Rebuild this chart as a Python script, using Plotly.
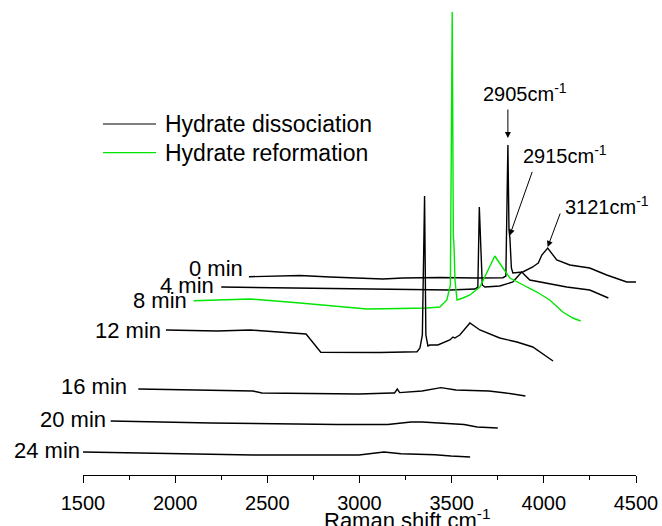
import plotly.graph_objects as go

# ---------------- data (raw Raman shift in cm-1, stacked intensity in a.u.) ----------------
times = ["0 min", "4 min", "8 min", "12 min", "16 min", "20 min", "24 min"]
x_offsets = [900, 750, 600, 450, 300, 150, 0]   # waterfall shift along x (cm-1)
colors = ["black", "black", "#00e600", "black", "black", "black", "black"]

x_0 = [1500, 1686, 1778, 1940, 2227, 2336, 2536, 2737, 2878, 2894, 2905, 2911, 2916, 2924, 2932,
       2986, 3040, 3062, 3070, 3089, 3121, 3170, 3241, 3349, 3441, 3550, 3600]
y_0 = [198.3, 199, 199.5, 198, 196, 197, 197.5, 197, 197.3, 199, 330, 245, 237, 207, 202,
       203, 208, 211, 212, 220, 227, 215, 210, 207, 200, 193, 193]

x_4 = [1500, 1711, 1928, 2128, 2415, 2740, 2876, 2892, 2900, 2911, 2916, 2930, 3011, 3082,
       3130, 3174, 3266, 3374, 3499, 3591, 3600]
y_4 = [188, 187.5, 187, 187, 186, 185, 186, 188, 268, 207, 190, 188, 189, 193,
       203, 195, 192, 188, 185, 178, 177]

x_8 = [1500, 1807, 2078, 2256, 2440, 2620, 2766, 2836, 2874, 2893, 2903, 2909, 2913, 2918,
       2929, 2961, 2999, 3053, 3091, 3134, 3178, 3216, 3308, 3362, 3432, 3503, 3557, 3600]
y_8 = [174.3, 176, 172, 169, 166, 166.5, 167, 168, 175, 190, 463, 240, 228, 195,
       175, 177, 180, 188, 202, 219, 207, 197, 188, 183, 175, 163, 157, 154]

x_12 = [1500, 1778, 1957, 2119, 2260, 2340, 2499, 2661, 2862, 2878, 2891, 2903, 2910, 2921,
        2932, 2975, 3040, 3057, 3067, 3094, 3149, 3203, 3311, 3404, 3490, 3600]
y_12 = [145, 144, 145, 143, 141, 122.7, 122.3, 122.5, 123.3, 127, 140, 279, 140, 129,
        130, 130, 135, 138, 137, 140, 152, 145, 137, 133, 128, 114]

x_16 = [1500, 2122, 2171, 2697, 2876, 2890, 2905, 2918, 3039, 3142, 3223, 3402, 3494, 3600]
y_16 = [86, 84, 82, 81, 82, 82, 86, 82.4, 84, 87.4, 85, 84, 82, 79]

x_20 = [1500, 2045, 2733, 3004, 3129, 3189, 3417, 3488, 3600]
y_20 = [54, 52, 50.5, 50.5, 53, 53, 50.5, 48, 47]

x_24 = [1500, 1968, 2423, 2997, 3133, 3225, 3409, 3496, 3600]
y_24 = [23, 21.3, 20, 20, 23, 21.3, 20.3, 19, 18]

xs = [x_0, x_4, x_8, x_12, x_16, x_20, x_24]
ys = [y_0, y_4, y_8, y_12, y_16, y_20, y_24]

legend_names = ["Hydrate dissociation", "Hydrate reformation"]
legend_colors = ["black", "#00e600"]

peak_labels = ["2905cm<sup>-1</sup>", "2915cm<sup>-1</sup>", "3121cm<sup>-1</sup>"]
peak_positions = [2905, 2915, 3121]      # on the 0 min spectrum

x_ticks = [1500, 2000, 2500, 3000, 3500, 4000, 4500]
x_title = "Raman shift cm<sup>-1</sup>"

# ---------------- figure ----------------
FONT = "Liberation Sans, Arial, sans-serif"
fig = go.Figure()

for name, xv, yv, off, col in zip(times, xs, ys, x_offsets, colors):
    fig.add_trace(go.Scatter(x=[v + off for v in xv], y=yv, mode="lines", name=name,
                             line=dict(color=col, width=1.4), showlegend=False,
                             hoverinfo="skip"))

# time labels at the start of each spectrum
lab_dx = [-4, -5, -5, -3, -9, -3, -1]
lab_dy = [8.7, 2, 0.7, 0, 3, 2, 2]
for name, xv, yv, off, dx, dy in zip(times, xs, ys, x_offsets, lab_dx, lab_dy):
    fig.add_annotation(x=xv[0] + off, y=yv[0], text=name, showarrow=False,
                       xanchor="right", yanchor="middle", xshift=dx, yshift=dy,
                       font=dict(family=FONT, size=22, color="black"))

# peak annotations (0 min spectrum)
def interp(xq, xv, yv):
    for i in range(len(xv) - 1):
        if xv[i] <= xq <= xv[i + 1]:
            t = (xq - xv[i]) / (xv[i + 1] - xv[i])
            return yv[i] + t * (yv[i + 1] - yv[i])
    return yv[-1]

arrow_gap = [7, 1, 1]
arrow_ax = [0, 23, 13]
arrow_ay = [-30, -65, -35]
text_dx = [-27, 11, 15]
text_dy = [-46, -81, -42]
off0 = x_offsets[0]
for lab, pk, g, ax, ay, tdx, tdy in zip(peak_labels, peak_positions, arrow_gap, arrow_ax,
                                        arrow_ay, text_dx, text_dy):
    hx = pk + off0
    hy = interp(pk, x_0, y_0) + g
    fig.add_annotation(x=hx, y=hy, text="", showarrow=True, ax=ax, ay=ay,
                       arrowhead=2, arrowsize=1.2, arrowwidth=1, arrowcolor="black")
    fig.add_annotation(x=hx, y=hy, text=lab, showarrow=False, xanchor="left",
                       yanchor="middle", xshift=tdx, yshift=-tdy,
                       font=dict(family=FONT, size=20, color="black"))

# manual legend
leg_y = [0.7468, 0.6857]
for nm, col, ly in zip(legend_names, legend_colors, leg_y):
    fig.add_shape(type="line", xref="paper", yref="paper", x0=0.0362, x1=0.132, y0=ly, y1=ly,
                  line=dict(color=col, width=1.2))
    fig.add_annotation(xref="paper", yref="paper", x=0.1447, y=ly, text=nm, showarrow=False,
                       xanchor="left", yanchor="middle",
                       font=dict(family=FONT, size=23, color="black"))

# x-axis title
fig.add_annotation(xref="paper", yref="paper", x=0.432, y=-0.094, text=x_title,
                   showarrow=False, xanchor="left", yanchor="middle",
                   font=dict(family=FONT, size=22, color="black"))

fig.update_xaxes(range=[1500, 4500], tickvals=x_ticks, ticks="outside", ticklen=7,
                 tickwidth=1.3, tickcolor="black", showline=True, linecolor="black",
                 linewidth=1.3, showgrid=False, zeroline=False, ticklabelstandoff=3,
                 tickfont=dict(family=FONT, size=20, color="black"),
                 minor=dict(dtick=250, tick0=1500, ticks="outside", ticklen=4,
                            tickwidth=1.3, tickcolor="black", showgrid=False))
fig.update_yaxes(range=[0, 470], visible=False, showgrid=False, zeroline=False)

fig.update_layout(width=662, height=526, margin=dict(l=83, r=26, t=5, b=51),
                  plot_bgcolor="white", paper_bgcolor="white", showlegend=False)

fig.write_html("out.html")
